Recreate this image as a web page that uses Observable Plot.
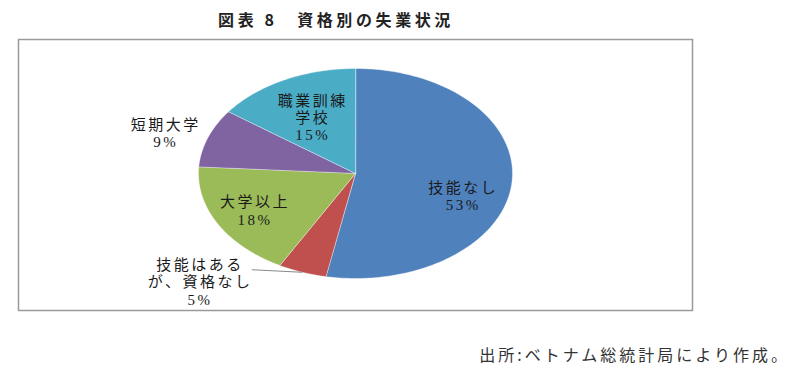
<!DOCTYPE html>
<html><head><meta charset="utf-8">
<script src="https://cdn.jsdelivr.net/npm/d3@7"></script>
<script src="https://cdn.jsdelivr.net/npm/@observablehq/plot@0.6"></script>
<style>
body{margin:0;background:#fff;width:800px;height:377px;overflow:hidden;position:relative;font-family:'Noto Sans CJK JP',sans-serif;}
#title{position:absolute;top:8px;left:0;width:672px;text-align:center;font-size:16px;font-weight:bold;letter-spacing:3.6px;color:#222;line-height:22px;}
#chart{position:absolute;top:38px;left:0;}
#chart text{letter-spacing:2.5px;}
#caption{position:absolute;top:343px;right:10px;font-size:16px;letter-spacing:3px;color:#333;line-height:22px;}
</style></head><body>
<div id="title">図表 8　資格別の失業状況</div>
<div id="chart"></div>
<div id="caption">出所:ベトナム総統計局により作成。</div>
<script>
// data
const categories = ["技能なし", "技能はあるが、資格なし", "大学以上", "短期大学", "職業訓練学校"];
const labelLines = [["技能なし"], ["技能はある", "が、資格なし"], ["大学以上"], ["短期大学"], ["職業訓練", "学校"]];
const values = [53, 5, 18, 9, 15];
const colors = ["#4F81BD", "#C0504D", "#9BBB59", "#8064A2", "#4BACC6"];

// layout helpers (label placement relative to slice mid-angle)
const labelRadius = [0.72, 1.43, 0.73, 1.27, 0.6];
const labelShift = [12, 24, 0, -2, 0]; // degrees

const arcs = d3.pie().sort(null).startAngle(0).endAngle(2 * Math.PI)(values);
const polys = arcs.map((a, i) => {
  const pts = [{x: 0, y: 0}];
  const n = Math.max(2, Math.ceil((a.endAngle - a.startAngle) / (Math.PI / 180)));
  for (let k = 0; k <= n; k++) {
    const t = a.startAngle + (a.endAngle - a.startAngle) * k / n;
    pts.push({x: Math.sin(t), y: Math.cos(t)});
  }
  return pts;
});
const labels = arcs.map((a, i) => {
  const m = (a.startAngle + a.endAngle) / 2 + labelShift[i] * Math.PI / 180;
  return {
    x: labelRadius[i] * Math.sin(m),
    y: labelRadius[i] * Math.cos(m),
    text: labelLines[i].join("\n") + "\n" + values[i] + "%"
  };
});
// leader line for the small red slice
const ra = arcs[1];
const rm = (ra.startAngle + ra.endAngle) / 2;
const leader = [{
  x1: 1.13 * Math.sin(rm + 16 * Math.PI / 180), y1: 1.13 * Math.cos(rm + 16 * Math.PI / 180),
  x2: 1.0 * Math.sin(rm), y2: 1.0 * Math.cos(rm)
}];

const rx = 157, ry = 105;
const plot = Plot.plot({
  width: 800, height: 300,
  marginLeft: 18, marginRight: 108, marginTop: 1, marginBottom: 28,
  x: {domain: [-337 / rx, 337 / rx], axis: null},
  y: {domain: [-137 / ry, 134 / ry], axis: null},
  style: {fontFamily: "'Liberation Serif','Noto Sans CJK JP',serif", background: "#fff"},
  marks: [
    Plot.frame({stroke: "#9a9a9a", strokeWidth: 1.5}),
    ...polys.map((p, i) => Plot.line(p, {x: "x", y: "y", fill: colors[i], stroke: "#ffffff", strokeWidth: 0.4, curve: "linear-closed"})),
    Plot.link(leader, {x1: "x1", y1: "y1", x2: "x2", y2: "y2", stroke: "#8a8a8a", strokeWidth: 1}),
    Plot.text(labels, {x: "x", y: "y", text: "text", fontSize: 15, lineHeight: 1.15, fill: "#1a1a1a", textAnchor: "middle"})
  ]
});
document.getElementById("chart").appendChild(plot);
</script>
</body></html>
